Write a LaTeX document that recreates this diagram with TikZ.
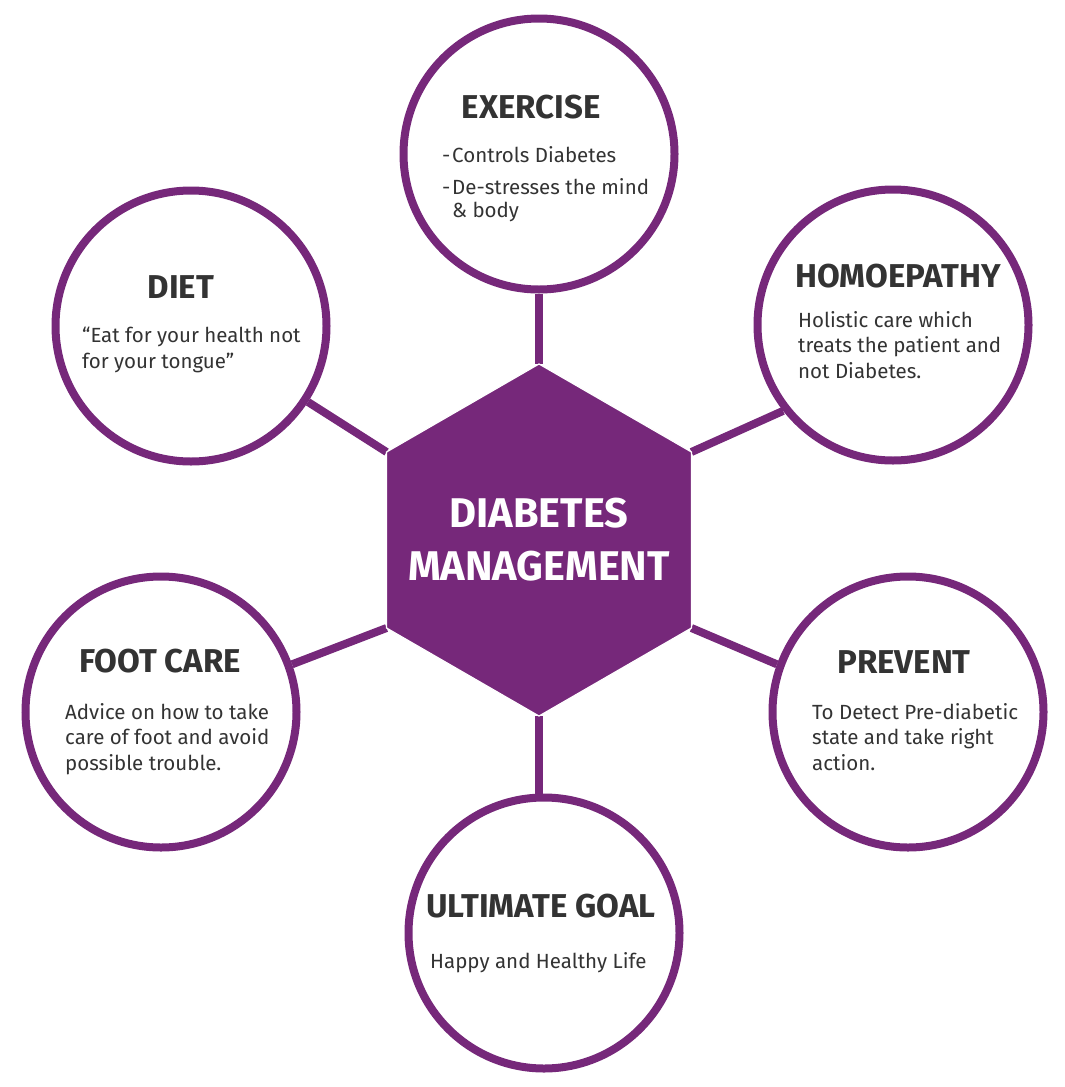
\documentclass[tikz,border=0pt]{standalone}
\usepackage{fontspec}
\setmainfont{Fira Sans}
\usepackage{xcolor}
\usepackage{tikz}
\usetikzlibrary{positioning, calc, backgrounds}

\definecolor{dmpurple}{HTML}{76287A}
\definecolor{dmtext}{HTML}{333333}

\tikzset{
  bubble/.style={circle, draw=dmpurple, line width=8pt, fill=white, minimum size=271pt, inner sep=0pt},
  link/.style={draw=dmpurple, line width=8pt},
  heading/.style={text=dmtext, font=\fontsize{33}{38}\selectfont\bfseries, inner sep=0pt, anchor=base},
  blurb/.style={text=dmtext, font=\fontsize{20.5}{25.5}\selectfont, inner sep=0pt, align=left, anchor=base west},
}

\begin{document}
\begin{tikzpicture}[x=1pt, y=-1pt]
        \useasboundingbox (0,0) rectangle (1065,1087);

        % hub corners
        \coordinate (hub) at (539,540);
        \foreach \a/\n in {-90/htop, -30/hupr, 30/hlwr, 90/hbot, 150/hlwl, -150/hupl} {
          \coordinate (\n) at ($(hub)+(\a:176)$);
        }

        % circles
        \foreach \n/\x/\y in {exercise/539/154, diet/191/326, homoeo/893/325, foot/161/712, prevent/908/712, goal/544/933} {
          \node[bubble] (\n) at (\x,\y) {};
        }

        \begin{scope}[on background layer]
          \draw[link] (exercise) -- (htop);
          \draw[link] (diet.327) -- (hupl);
          \draw[link] (homoeo.218) -- (hupr);
          \draw[link] (foot.20) -- (hlwl);
          \draw[link] (prevent.160) -- (hlwr);
          \draw[link] (hbot) -- (hbot |- goal.north);
        \end{scope}

        \fill[dmpurple, draw=white, line width=1.2pt] (htop) -- (hupr) -- (hlwr) -- (hbot) -- (hlwl) -- (hupl) -- cycle;
        \node[text=white, font=\fontsize{41.5}{53}\selectfont\bfseries, align=center] (hubtext) at (hub) {DIABETES\\MANAGEMENT};

        % texts (blurbs sit on their last baseline)
        \node[heading] (exercisehead) at (531,118) {EXERCISE};
        \node[blurb] (exerciseblurb) at (442,217) {\makebox[10pt][l]{-}Controls Diabetes\\[7pt]\makebox[10pt][l]{-}De-stresses the mind\\[-3pt]\hspace*{10pt}\& body};

        \node[heading] (diethead) at (181,298) {DIET};
        \node[blurb] (dietblurb) at (82,368) {“Eat for your health not\\for your tongue”};

        \node[heading] (homoeohead) at (898,287) {HOMOEPATHY};
        \node[blurb] (homoeoblurb) at (798,378) {Holistic care which\\treats the patient and\\not Diabetes.};

        \node[heading] (foothead) at (160,672) {FOOT CARE};
        \node[blurb] (footblurb) at (65,770) {Advice on how to take\\care of foot and avoid\\possible trouble.};

        \node[heading] (preventhead) at (904,673) {PREVENT};
        \node[blurb] (preventblurb) at (812,770) {To Detect Pre-diabetic\\state and take right\\action.};

        \node[heading] (goalhead) at (541,917) {ULTIMATE GOAL};
        \node[blurb] (goalblurb) at (430,968) {Happy and Healthy Life};
      \end{tikzpicture}
\end{document}
